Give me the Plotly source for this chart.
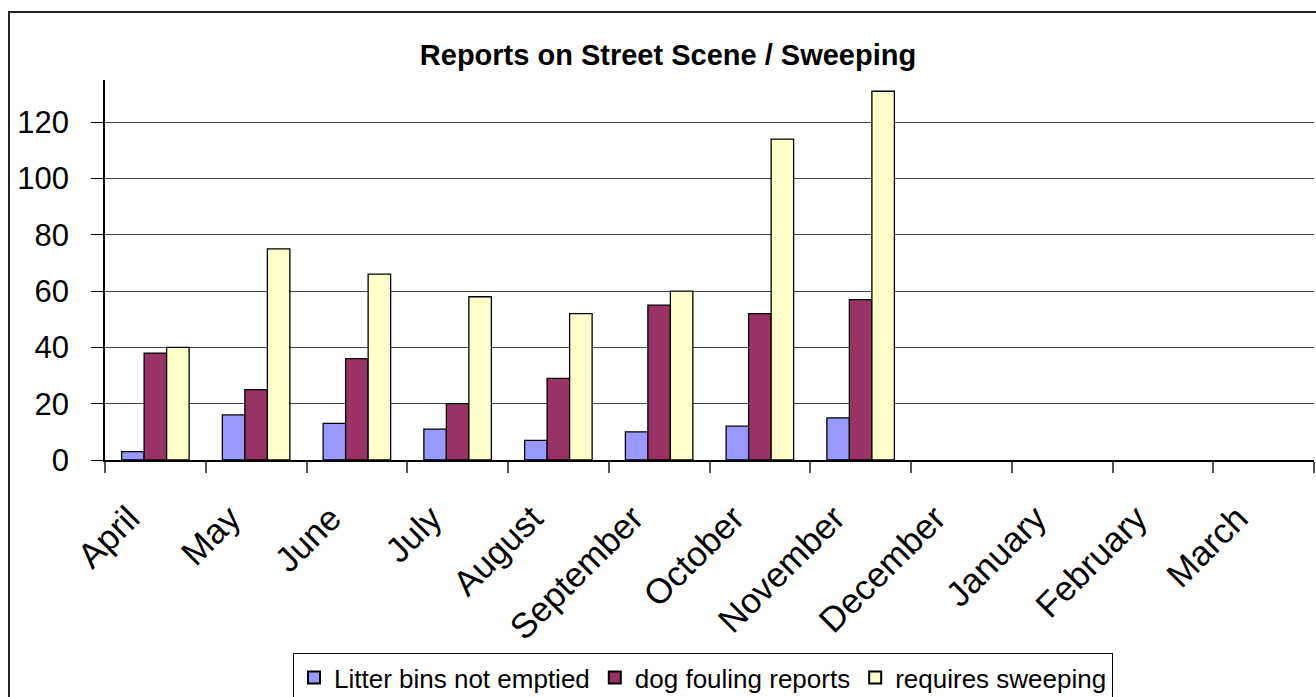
import plotly.graph_objects as go

months = ["April", "May", "June", "July", "August", "September", "October",
          "November", "December", "January", "February", "March"]
litter_bins = [3, 16, 13, 11, 7, 10, 12, 15, None, None, None, None]
dog_fouling = [38, 25, 36, 20, 29, 55, 52, 57, None, None, None, None]
sweeping = [40, 75, 66, 58, 52, 60, 114, 131, None, None, None, None]

series = [
    ("Litter bins not emptied", litter_bins, "#9999FF"),
    ("dog fouling reports", dog_fouling, "#993366"),
    ("requires sweeping", sweeping, "#FFFFCC"),
]

W, H = 1316, 697
ml, mr, mt, mb = 105, 2, 80, 237
pw = W - ml - mr
ph = H - mt - mb

fig = go.Figure()
for name, vals, col in series:
    fig.add_trace(go.Bar(x=months, y=vals, name=name,
                         marker=dict(color=col, line=dict(color="black", width=1.3))))

font = "Liberation Sans, Arial, sans-serif"

def px_x(p):
    return (p - ml) / pw

def px_y(p):
    return (H - mb - p) / ph

fig.update_layout(
    width=W, height=H,
    margin=dict(l=ml, r=mr, t=mt, b=mb, autoexpand=False),
    paper_bgcolor="white", plot_bgcolor="white",
    barmode="group", bargap=0.33, bargroupgap=0,
    font=dict(family=font, color="black"),
    title=dict(text="<b>Reports on Street Scene / Sweeping</b>",
               font=dict(size=29, family=font, color="black"),
               x=px_x(668), xref="paper", xanchor="center",
               y=1 - 55 / H, yref="container", yanchor="middle"),
    xaxis=dict(type="category", showline=True, linecolor="black", linewidth=1.5,
               ticks="outside", ticklen=11, tickcolor="#555", tickwidth=2,
               tickson="boundaries", tickangle=-45,
               ticklabelshift=-26, ticklabelstandoff=22,
               tickfont=dict(size=35, family=font, color="black"),
               showgrid=False, range=[-0.5, 11.5], automargin=False),
    yaxis=dict(range=[0, 135], dtick=20, showline=True, linecolor="black", linewidth=1.5,
               ticks="outside", ticklen=12, tickcolor="black",
               ticklabelstandoff=16,
               showgrid=True, gridcolor="#444", gridwidth=1.3, zeroline=False,
               tickfont=dict(size=31, family=font, color="black"), automargin=False),
    legend=dict(orientation="h", x=px_x(703), xanchor="center", xref="paper",
                y=px_y(702), yanchor="bottom", yref="paper",
                bordercolor="black", borderwidth=1, bgcolor="white",
                font=dict(size=26, family=font, color="black"),
                itemsizing="constant", tracegroupgap=0, itemwidth=30),
    showlegend=True,
    shapes=[dict(type="rect", xref="paper", yref="paper",
                 x0=px_x(9), x1=px_x(1330), y0=px_y(720), y1=px_y(12),
                 line=dict(color="#222", width=2), fillcolor="rgba(0,0,0,0)", layer="below")],
)

fig.write_html("out.html", config={"displayModeBar": False},
               post_script="document.body.style.margin='0';document.body.style.overflow='hidden';")
